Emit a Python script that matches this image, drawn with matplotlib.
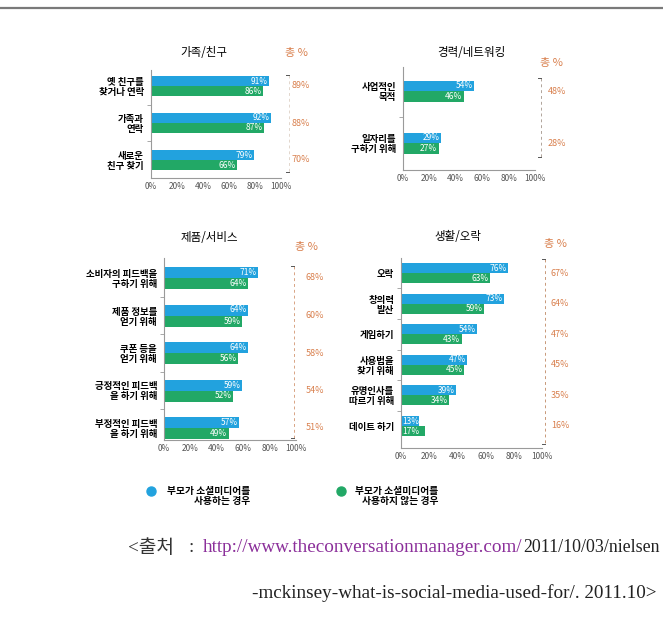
import matplotlib
matplotlib.use('Agg')
import matplotlib.pyplot as plt
from matplotlib.lines import Line2D
from matplotlib.transforms import blended_transform_factory

plt.rcParams['font.family'] = ['Noto Sans CJK KR', 'DejaVu Sans']

# ---- data ----
fam_labels = ['옛 친구를\n찾거나 연락', '가족과\n연락', '새로운\n친구 찾기']
fam_users = [91, 92, 79]
fam_nonusers = [86, 87, 66]
fam_total = [89, 88, 70]

career_labels = ['사업적인\n목적', '일자리를\n구하기 위해']
career_users = [54, 29]
career_nonusers = [46, 27]
career_total = [48, 28]

prod_labels = ['소비자의 피드백을\n구하기 위해', '제품 정보를\n얻기 위해', '쿠폰 등을\n얻기 위해',
               '긍정적인 피드백\n을 하기 위해', '부정적인 피드백\n을 하기 위해']
prod_users = [71, 64, 64, 59, 57]
prod_nonusers = [64, 59, 56, 52, 49]
prod_total = [68, 60, 58, 54, 51]

life_labels = ['오락', '창의력\n발산', '게임하기', '사용법을\n찾기 위해', '유명인사를\n따르기 위해', '데이트 하기']
life_users = [76, 73, 54, 47, 39, 13]
life_nonusers = [63, 59, 43, 45, 34, 17]
life_total = [67, 64, 47, 45, 35, 16]

x_ticks = [0, 20, 40, 60, 80, 100]
legend_labels = ['부모가 소셜미디어를\n사용하는 경우', '부모가 소셜미디어를\n사용하지 않는 경우']

BLUE = '#22a2de'
GREEN = '#22a866'
ORANGE = '#d9804e'
AXIS = '#9a9a9a'

W, H = 663, 617
fig = plt.figure(figsize=(W / 100, H / 100), dpi=100)


def fx(x):
    return x / W


def fy(y):
    return 1 - y / H


def panel(box, title, title_xy, labels, users, nonusers, total, total_x, dash_x, dash_y,
          head_xy, first_c, spacing, bar_h, dash_col):
    x0, y0, x1, y1 = box
    ax = fig.add_axes([fx(x0), fy(y1), fx(x1 - x0), (y1 - y0) / H])
    n = len(labels)
    pos = list(range(n))
    h = bar_h / spacing
    top = -(first_c - y0) / spacing
    bottom = top + (y1 - y0) / spacing
    ax.barh([p - h / 2 for p in pos], users, height=h, color=BLUE)
    ax.barh([p + h / 2 for p in pos], nonusers, height=h, color=GREEN)
    for p, u, g in zip(pos, users, nonusers):
        for v, yy in ((u, p - h / 2), (g, p + h / 2)):
            if v < 20:
                ax.text(1, yy, f'{v}%', color='white', fontsize=6, ha='left', va='center')
            else:
                ax.text(v - 1, yy, f'{v}%', color='white', fontsize=6, ha='right', va='center')
    ax.set_xlim(0, 100)
    ax.set_ylim(bottom, top)
    ax.set_xticks(x_ticks)
    ax.set_xticklabels([f'{t}%' for t in x_ticks], fontsize=6, color='#555555')
    ax.set_yticks(pos)
    ax.set_yticklabels(labels, fontsize=6.8, fontweight='bold', linespacing=1.0)
    ax.set_yticks([p + 0.5 for p in pos[:-1]], minor=True)
    ax.tick_params(axis='y', which='major', length=0, pad=5)
    ax.tick_params(axis='y', which='minor', length=3, color=AXIS)
    ax.tick_params(axis='x', length=0, pad=3)
    for s in ('top', 'right'):
        ax.spines[s].set_visible(False)
    for s in ('left', 'bottom'):
        ax.spines[s].set_color(AXIS)
        ax.spines[s].set_linewidth(0.8)
    fig.text(fx(title_xy[0]), fy(title_xy[1]), title, fontsize=8.3, ha='center', va='center')
    fig.text(fx(head_xy[0]), fy(head_xy[1]), '총 %', fontsize=8, color=ORANGE,
             ha='center', va='center')
    fig.add_artist(Line2D([fx(dash_x), fx(dash_x)], [fy(dash_y[0]), fy(dash_y[1])],
                          color=dash_col, lw=0.7, ls=(0, (3, 3))))
    fig.add_artist(Line2D([fx(dash_x - 3), fx(dash_x)], [fy(dash_y[0]), fy(dash_y[0])],
                          color='#555555', lw=0.7))
    fig.add_artist(Line2D([fx(dash_x - 3), fx(dash_x)], [fy(dash_y[1]), fy(dash_y[1])],
                          color='#555555', lw=0.7))
    tr = blended_transform_factory(fig.transFigure, ax.transData)
    for p, t in zip(pos, total):
        ax.text(fx(total_x), p, f'{t}%', transform=tr, fontsize=6.5, color=ORANGE,
                ha='center', va='center', clip_on=False)
    return ax


panel((151, 70, 281, 178), '가족/친구', (204, 53), fam_labels, fam_users, fam_nonusers,
      fam_total, 301, 289, (75, 172), (296, 53), 86, 37, 10, '#e2d6cc')
panel((403, 67, 535, 170), '경력/네트워킹', (471, 53), career_labels, career_users,
      career_nonusers, career_total, 557, 541, (78, 157), (551, 63), 91, 52, 10.5, '#b0a49a')
panel((164, 258, 296, 440), '제품/서비스', (209, 238), prod_labels, prod_users,
      prod_nonusers, prod_total, 315, 294, (266, 438), (306, 247), 278, 37.5, 11, '#d8a484')
panel((401, 258, 542, 448), '생활/오락', (458, 236), life_labels, life_users,
      life_nonusers, life_total, 560, 545, (259, 444), (555, 244), 273, 30.6, 10, '#c89878')

# legend
for (cx, tx), col, lab in zip([(151, 250), (341, 438)], [BLUE, GREEN], legend_labels):
    fig.add_artist(Line2D([fx(cx)], [fy(491)], marker='o', markersize=6.5, color=col, lw=0))
    fig.text(fx(tx), fy(496), lab, fontsize=7, fontweight='bold', ha='right', va='center',
             multialignment='right', linespacing=1.0)

# top rule
fig.add_artist(Line2D([0, 1], [fy(8), fy(8)], color='#7a7a7a', lw=1.6))

# citation
serif = ['Liberation Serif', 'Noto Sans CJK KR']
fs = 13.8
fig.text(fx(128), fy(548), '<출처', fontsize=fs, family=serif, color='#333333', va='center')
fig.text(fx(188), fy(548), ':', fontsize=fs, family=serif, color='#333333', va='center')
fig.text(fx(203), fy(548), 'http://www.theconversationmanager.com/', fontsize=fs,
         family=serif, color='#8b2f9a', va='center')
fig.text(fx(660), fy(548), '2011/10/03/nielsen', fontsize=12.9, family=serif,
         color='#222222', va='center', ha='right')
fig.text(fx(656), fy(593), '-mckinsey-what-is-social-media-used-for/. 2011.10>', fontsize=fs,
         family=serif, color='#222222', va='center', ha='right')

fig.savefig('out.png', dpi=100)
